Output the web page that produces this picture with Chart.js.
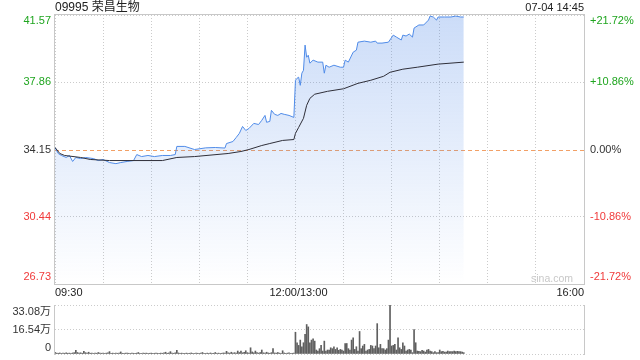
<!DOCTYPE html>
<html><head><meta charset="utf-8">
<script src="https://cdn.jsdelivr.net/npm/chart.js@4.4.1/dist/chart.umd.min.js"></script>
<style>
html,body{margin:0;padding:0;background:#fff;}
#wrap{position:relative;width:640px;height:360px;overflow:hidden;background:#fff;}
canvas{position:absolute;left:0;}
</style></head><body>
<div id="wrap">
<canvas id="pc" width="640" height="300" style="top:0"></canvas>
<canvas id="vc" width="640" height="60" style="top:300px"></canvas>
</div>
<script>
const stockTitle = '09995 荣昌生物';
const stamp = '07-04 14:45';
const prevClose = 34.15;
const priceTicks = [41.57, 37.86, 34.15, 30.44, 26.73];
const pctTicks = ['+21.72%', '+10.86%', '0.00%', '-10.86%', '-21.72%'];
const timeLabels = ['09:30', '12:00/13:00', '16:00'];
const timeLabelAt = ['09:30', '13:00', '16:00'];
const volTicks = [33.08, 16.54, 0];
const volTickLabels = ['33.08万', '16.54万', '0'];

const priceTimes = ['09:30','09:32','09:34','09:37','09:39','09:41','09:43','09:46','09:49','09:54','09:57','10:00','10:04','10:08','10:11','10:15','10:19','10:21','10:24','10:28','10:32','10:37','10:42','10:45','10:46','10:51','10:57','11:04','11:10','11:16','11:17','11:21','11:23','11:25','11:27','11:29','11:31','11:34','11:37','11:39','11:41','11:42','11:44','11:45','11:47','11:49','11:51','11:53','11:56','11:59',
'13:00','13:01','13:02','13:03','13:04','13:05','13:06','13:07','13:08','13:09','13:11','13:14','13:17','13:18','13:19','13:21','13:24','13:28','13:30','13:31','13:33','13:36','13:38','13:39','13:43','13:47','13:50','13:51','13:54','13:58','14:01','14:03','14:06','14:07','14:09','14:11','14:13','14:14','14:17','14:20','14:23','14:24','14:26','14:28','14:29','14:33','14:37','14:40','14:43','14:45'];
const priceValues = [34.26,33.93,33.82,33.71,33.82,33.49,33.71,33.65,33.71,33.65,33.54,33.60,33.43,33.37,33.43,33.49,33.54,33.87,33.76,33.82,33.76,33.82,33.82,33.87,34.32,34.32,34.15,34.24,34.26,34.23,34.48,34.59,34.81,35.04,35.42,35.20,35.31,35.59,35.53,35.76,36.03,35.65,35.70,36.31,36.09,36.03,36.14,36.09,36.03,35.92,
37.97,38.08,38.14,37.69,38.36,38.52,39.91,39.24,39.35,38.91,39.08,38.97,38.97,38.36,38.80,38.69,38.80,38.69,38.69,39.08,38.97,39.52,39.63,40.07,40.13,40.07,40.13,40.02,40.02,40.07,40.46,40.35,40.19,40.46,40.41,40.52,40.35,40.85,41.02,41.02,41.29,41.51,41.46,41.29,41.46,41.46,41.46,41.51,41.46,41.46];

const avgTimes = ['09:30','09:33','09:36','09:46','09:52','10:04','10:37','10:46','10:57','11:18','11:26','11:31','11:39','11:44','11:52','11:59',
'13:00','13:02','13:05','13:07','13:09','13:12','13:20','13:30','13:39','13:47','13:55','13:59','14:07','14:16','14:29','14:45'];
const avgValues = [34.26,33.93,33.82,33.71,33.60,33.54,33.54,33.71,33.76,33.93,34.04,34.15,34.37,34.48,34.65,34.70,
35.04,35.37,35.87,36.59,36.97,37.20,37.36,37.50,37.80,37.97,38.19,38.41,38.58,38.69,38.86,38.97];

// volume per minute from 09:30 (万股)
const volumes = [
1.2,0.6,0.5,0.7,0.4,0.6,0.5,0.8,0.5,0.6,
0.5,0.7,0.9,2.5,1.0,0.6,0.8,0.5,1.8,0.9,
0.6,1.2,0.5,0.7,0.4,0.6,0.5,1.0,0.6,0.5,
0.7,0.4,0.6,0.8,1.6,0.5,0.6,0.4,0.7,0.5,
0.6,1.4,0.5,0.4,0.6,0.7,0.5,0.4,0.6,0.5,
0.4,0.6,1.0,0.5,0.4,0.7,0.5,0.6,0.4,0.5,
0.6,0.4,0.5,0.7,0.5,0.4,0.6,0.5,0.8,1.2,
0.5,0.7,1.6,0.6,0.5,0.8,2.5,0.7,0.5,0.6,
0.4,0.5,0.6,0.4,0.5,0.7,0.5,0.4,0.6,0.5,
0.4,0.6,1.0,0.5,0.4,0.6,0.5,0.7,0.4,0.5,
1.0,0.5,0.6,0.4,0.5,0.7,0.6,1.8,0.8,0.6,
1.2,0.7,0.9,0.6,2.0,1.0,2.0,0.8,1.1,2.2,
0.9,0.7,4.2,1.4,0.8,2.0,0.9,0.6,1.0,2.7,
0.8,0.6,1.2,0.7,0.5,0.9,3.6,0.7,0.6,1.0,
0.6,0.5,2.2,0.7,0.5,0.6,0.8,0.4,0.5,0.6,
14.7,7.6,5.8,9.4,4.9,7.6,13.2,19.9,18.3,7.6,
9.4,10.3,8.7,2.7,2.0,3.6,5.8,2.0,8.7,2.0,
2.7,2.7,4.2,3.6,4.9,3.1,4.2,2.5,3.1,2.7,
2.0,7.1,7.1,3.6,2.7,9.4,10.9,3.1,4.9,2.0,
15.2,3.6,5.4,6.5,2.0,2.7,3.1,5.8,5.4,3.6,
5.4,20.5,4.2,6.5,3.6,3.6,2.7,3.6,9.4,33.08,
5.4,5.8,6.5,2.7,10.9,4.2,3.1,7.6,5.4,2.0,
2.7,3.1,2.7,0.9,16.5,7.6,2.0,1.8,1.6,2.5,
2.0,1.3,2.7,3.1,2.0,1.6,0.9,1.6,0.9,0.9,
2.7,1.6,1.8,1.3,1.3,2.0,1.6,1.6,1.6,2.0,
1.6,1.8,1.6,1.6,1.3,0.9];

const FONT = '"Liberation Sans", Arial, "Noto Sans CJK SC", sans-serif';
const GREEN = '#1fa51f', RED = '#f03a3a', DARK = '#333333';
const GRID = '#cbcbcb', FRAME = '#c8c8c8';

function toMin(t){const p=t.split(':').map(Number);const v=p[0]*60+p[1];return v<=720? v-570 : v-780+150;}

function fillGrad(c){
  const ch=c.chart, a=ch.chartArea;
  if(!a) return 'rgba(70,130,230,0.2)';
  const g=ch.ctx.createLinearGradient(0,a.top,0,a.bottom);
  g.addColorStop(0,'rgba(70,130,230,0.28)');
  g.addColorStop(1,'rgba(70,130,230,0.0)');
  return g;
}

const pricePlugin = {
  id:'priceDeco',
  beforeDatasetsDraw(chart){
    const {ctx, chartArea:a, scales:{y}} = chart;
    const py = Math.round(y.getPixelForValue(prevClose))+0.5;
    ctx.save(); ctx.strokeStyle='#f2a066'; ctx.lineWidth=1; ctx.setLineDash([4,3]);
    ctx.beginPath(); ctx.moveTo(a.left,py); ctx.lineTo(a.right,py); ctx.stroke(); ctx.restore();
  },
  afterDraw(chart){
    const {ctx, chartArea:a, scales:{x,y}} = chart;
    ctx.save();
    ctx.strokeStyle=FRAME; ctx.lineWidth=1; ctx.setLineDash([]);
    ctx.strokeRect(a.left-0.5, a.top-0.5, a.right-a.left+1, a.bottom-a.top+1);
    ctx.font='11px '+FONT; ctx.textBaseline='middle';
    priceTicks.forEach((v,i)=>{
      let py=y.getPixelForValue(v); py=Math.max(a.top+6, Math.min(a.bottom-7, py));
      ctx.fillStyle = v>prevClose+1e-9?GREEN:(v<prevClose-1e-9?RED:DARK);
      ctx.textAlign='right'; ctx.fillText(v.toFixed(2), a.left-4, py);
      ctx.textAlign='left'; ctx.fillText(pctTicks[i], a.right+6, py);
    });
    ctx.fillStyle='#222'; ctx.font='12px '+FONT; ctx.textAlign='left'; ctx.fillText(stockTitle, a.left, 8);
    ctx.font='11px '+FONT; ctx.textAlign='right'; ctx.fillText(stamp, a.right, 8);
    const al=['left','center','right'];
    timeLabels.forEach((t,i)=>{
      ctx.textAlign=al[i]; ctx.fillStyle='#222';
      ctx.fillText(t, x.getPixelForValue(toMin(timeLabelAt[i]))+(i===1?3:0), 293);
    });
    ctx.fillStyle='#c8c8c8'; ctx.font='10.5px '+FONT; ctx.textAlign='right';
    ctx.fillText('sina.com', a.right-11, a.bottom-5);
    ctx.restore();
  }
};

const volPlugin = {
  id:'volDeco',
  afterDraw(chart){
    const {ctx, chartArea:a, scales:{y}} = chart;
    ctx.save();
    ctx.strokeStyle=FRAME; ctx.lineWidth=1;
    ctx.beginPath();
    ctx.moveTo(a.left-0.5, a.top); ctx.lineTo(a.left-0.5, a.bottom+1);
    ctx.moveTo(a.right+0.5, a.top); ctx.lineTo(a.right+0.5, a.bottom+1);
    ctx.stroke();
    ctx.font='11px '+FONT; ctx.textBaseline='middle'; ctx.textAlign='right'; ctx.fillStyle=DARK;
    volTicks.forEach((v,i)=>{
      let py=y.getPixelForValue(v); py=Math.max(a.top+7, Math.min(a.bottom-6, py));
      ctx.fillText(volTickLabels[i], a.left-4, py);
    });
    ctx.restore();
  }
};

new Chart(document.getElementById('pc'), {
  type:'line',
  data:{datasets:[
    {label:'价格', data: priceTimes.map((t,i)=>({x:toMin(t), y:priceValues[i]})), borderColor:'#4f8be8', borderWidth:1, pointRadius:0, fill:'start', backgroundColor:fillGrad, tension:0, order:2},
    {label:'均价', data: avgTimes.map((t,i)=>({x:toMin(t), y:avgValues[i]})), borderColor:'#2e2e38', borderWidth:1, pointRadius:0, fill:false, tension:0, order:1}
  ]},
  options:{
    responsive:false, animation:false, events:[],
    layout:{padding:{top:15,left:0,right:0,bottom:0}},
    plugins:{legend:{display:false}, tooltip:{enabled:false}},
    scales:{
      x:{type:'linear', min:0, max:330, ticks:{display:false, stepSize:30}, grid:{color:GRID, drawTicks:false}, border:{display:false, dash:[1,2]}, afterFit(s){s.height=16;}},
      y:{position:'left', min:26.73, max:41.57, afterBuildTicks(s){s.ticks=priceTicks.map(v=>({value:v}));}, ticks:{display:false}, grid:{drawTicks:false, color:(c)=> (c.tick && Math.abs(c.tick.value-prevClose)<1e-6)?'rgba(0,0,0,0)':GRID}, border:{display:false, dash:[1,2]}, afterFit(s){s.width=55;}},
      y2:{position:'right', display:true, min:-21.72, max:21.72, ticks:{display:false}, grid:{display:false}, border:{display:false}, afterFit(s){s.width=56;}}
    }
  },
  plugins:[pricePlugin]
});

new Chart(document.getElementById('vc'), {
  type:'bar',
  data:{datasets:[{label:'成交量', data: volumes.map((v,i)=>({x:i,y:v})), backgroundColor:'#5f5f5f', barThickness:1, borderWidth:0}]},
  options:{
    responsive:false, animation:false, events:[],
    layout:{padding:{top:5,left:0,right:0,bottom:0}},
    plugins:{legend:{display:false}, tooltip:{enabled:false}},
    scales:{
      x:{type:'linear', min:0, max:330, offset:false, ticks:{display:false}, grid:{display:false}, border:{display:false}, afterFit(s){s.height=6;}},
      y:{position:'left', min:0, max:33.08, afterBuildTicks(s){s.ticks=volTicks.map(v=>({value:v}));}, ticks:{display:false}, grid:{color:GRID, drawTicks:false}, border:{display:false, dash:[1,2]}, afterFit(s){s.width=55;}},
      yr:{position:'right', display:true, min:0, max:1, ticks:{display:false}, grid:{display:false}, border:{display:false}, afterFit(s){s.width=56;}}
    }
  },
  plugins:[volPlugin]
});
</script>
</body></html>
